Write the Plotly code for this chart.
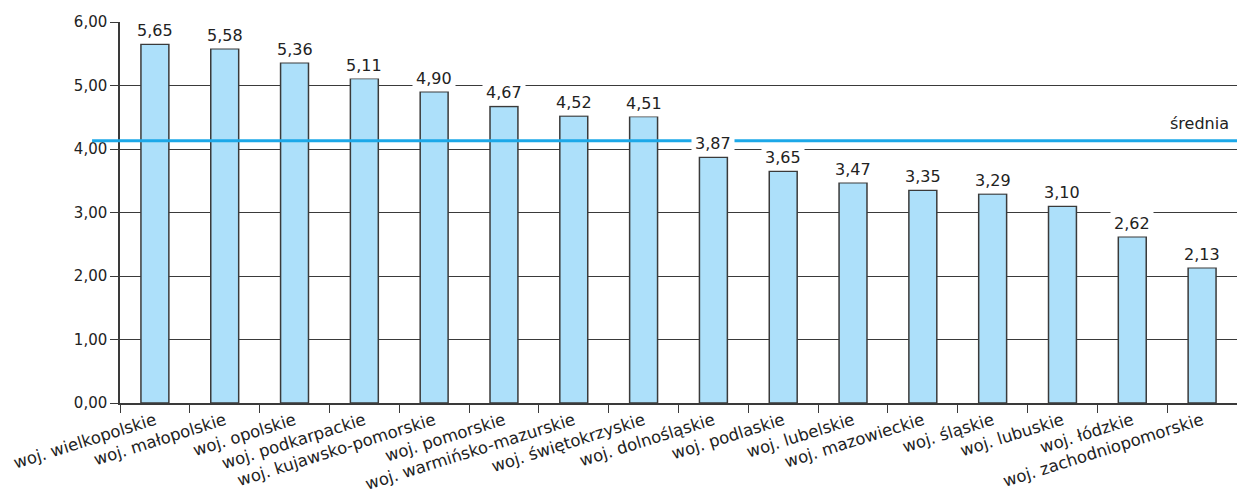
import plotly.graph_objects as go

categories = ["woj. wielkopolskie", "woj. małopolskie", "woj. opolskie", "woj. podkarpackie",
              "woj. kujawsko-pomorskie", "woj. pomorskie", "woj. warmińsko-mazurskie",
              "woj. świętokrzyskie", "woj. dolnośląskie", "woj. podlaskie", "woj. lubelskie",
              "woj. mazowieckie", "woj. śląskie", "woj. lubuskie", "woj. łódzkie",
              "woj. zachodniopomorskie"]
values = [5.65, 5.58, 5.36, 5.11, 4.90, 4.67, 4.52, 4.51, 3.87, 3.65, 3.47, 3.35, 3.29, 3.10, 2.62, 2.13]
average = 4.13
average_label = "średnia"
y_ticks = [0, 1, 2, 3, 4, 5, 6]

FONT = "DejaVu Sans"
DARK = "#3a3a3a"
TXT = "#222"

fig = go.Figure()
fig.add_trace(go.Bar(
    x=categories, y=values, width=0.4,
    marker=dict(color="#ade0fa", line=dict(color=DARK, width=1.5)),
    hoverinfo="skip",
))

for c, v in zip(categories, values):
    fig.add_annotation(x=c, y=v, xref="x", yref="y", text=f"{v:.2f}".replace(".", ","),
                       showarrow=False, yanchor="bottom", yshift=0, bgcolor="white",
                       borderpad=3, font=dict(family=FONT, size=16, color=TXT))

fig.add_shape(type="line", xref="paper", yref="y", x0=-0.025, x1=1, y0=average, y1=average,
              line=dict(color="#1ca8e8", width=3), layer="above")
fig.add_annotation(xref="paper", yref="y", x=0.995, y=average, text=average_label,
                   showarrow=False, xanchor="right", yanchor="bottom", yshift=6,
                   font=dict(family=FONT, size=16, color=TXT))

fig.update_layout(
    width=1237, height=496,
    margin=dict(l=120, r=0, t=22, b=93),
    plot_bgcolor="white", paper_bgcolor="white",
    separators=",.",
    showlegend=False,
    font=dict(family=FONT, size=14, color=TXT),
)
fig.update_xaxes(type="category", tickangle=-17.5, tickson="boundaries", ticks="outside",
                 ticklen=8, tickcolor=DARK, showline=True, linecolor=DARK, linewidth=1.5,
                 showgrid=False, tickfont=dict(family=FONT, size=16.5, color=TXT))
fig.update_yaxes(range=[0, 6], tickvals=y_ticks, tickformat=".2f", ticks="outside", ticklen=8,
                 tickcolor=DARK, showline=True, linecolor=DARK, linewidth=1.5,
                 showgrid=True, gridcolor=DARK, gridwidth=1, zeroline=False,
                 tickfont=dict(family=FONT, size=15, color=TXT))

fig.write_html("out.html")
